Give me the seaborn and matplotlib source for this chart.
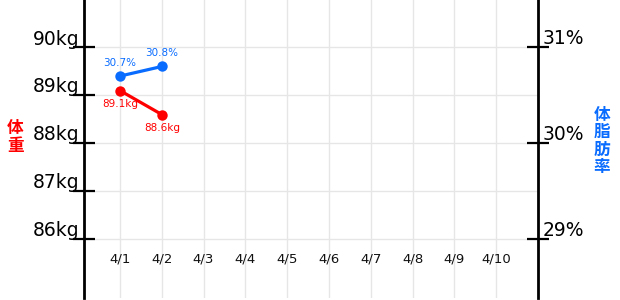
import numpy as np
import pandas as pd
import matplotlib
matplotlib.use("Agg")
import matplotlib.pyplot as plt
from matplotlib.transforms import ScaledTranslation
import seaborn as sns

# ---- data ----
dates = ["4/1", "4/2", "4/3", "4/4", "4/5", "4/6", "4/7", "4/8", "4/9", "4/10"]
weight = [89.1, 88.6, None, None, None, None, None, None, None, None]
bodyfat = [30.7, 30.8, None, None, None, None, None, None, None, None]
weight_ticks = [86, 87, 88, 89, 90]
weight_tick_labels = ["86kg", "87kg", "88kg", "89kg", "90kg"]
fat_ticks = [29, 30, 31]
fat_tick_labels = ["29%", "30%", "31%"]

RED = "#ff0000"
BLUE = "#0a6cff"

sns.set_theme(style="white")
plt.rcParams["font.family"] = ["DejaVu Sans", "Noto Sans CJK JP"]

df = pd.DataFrame({
    "pos": np.arange(len(dates)),
    "date": dates,
    "weight": pd.array(weight, dtype="Float64").astype(float),
    "bodyfat": pd.array(bodyfat, dtype="Float64").astype(float),
})

fig = plt.figure(figsize=(6.2, 3.0), dpi=100)
ax = fig.add_axes([84 / 620, 2 / 300, 454 / 620, 298 / 300])
ax2 = ax.twinx()

sns.lineplot(data=df.dropna(subset=["weight"]), x="pos", y="weight", ax=ax,
             color=RED, lw=2.3, marker="o", markersize=7.5,
             markeredgewidth=0, zorder=3)
sns.lineplot(data=df.dropna(subset=["bodyfat"]), x="pos", y="bodyfat", ax=ax2,
             color=BLUE, lw=2.3, marker="o", markersize=7.5,
             markeredgewidth=0, zorder=3)

ax.set_xlim(-0.86, 10.0)
ax.set_ylim(84.77, 90.99)
ax2.set_ylim(28.384, 31.494)

ax.set_xlabel("")
ax.set_ylabel("")
ax2.set_ylabel("")

# x ticks
ax.set_xticks(df["pos"])
ax.set_xticklabels(dates, fontsize=9.5, color="#111111")
ax.tick_params(axis="x", length=0, pad=-33)

# y ticks
ax.set_yticks(weight_ticks)
ax.set_yticklabels(weight_tick_labels, fontsize=13.5, color="black")
ax2.set_yticks(fat_ticks)
ax2.set_yticklabels(fat_tick_labels, fontsize=13.5, color="black")
for a in (ax, ax2):
    a.tick_params(axis="y", direction="inout", length=16, width=1.6,
                  color="black", pad=-4.5)
shift = ScaledTranslation(0, 7.5 / 72, fig.dpi_scale_trans)
for lab in ax.get_yticklabels() + ax2.get_yticklabels():
    lab.set_transform(lab.get_transform() + shift)

# grid
ax.grid(True, color="#e6e6e6", lw=1)
ax2.grid(False)
ax.set_axisbelow(True)

for a in (ax, ax2):
    a.spines["top"].set_visible(False)
    a.spines["bottom"].set_visible(False)
ax.spines["right"].set_visible(False)
ax2.spines["left"].set_visible(False)
ax.spines["left"].set_color("black")
ax.spines["left"].set_linewidth(2)
ax2.spines["right"].set_color("black")
ax2.spines["right"].set_linewidth(2)

# data labels
for i, v in enumerate(weight):
    if v is not None:
        ax.annotate(f"{v}kg", (i, v), xytext=(0, -10), textcoords="offset points",
                    ha="center", va="center", fontsize=7.5, color=RED)
for i, v in enumerate(bodyfat):
    if v is not None:
        ax2.annotate(f"{v}%", (i, v), xytext=(0, 9.5), textcoords="offset points",
                     ha="center", va="center", fontsize=7.5, color=BLUE)

# axis titles (vertical stacked)
cjk = ["Noto Sans CJK JP", "DejaVu Sans"]
fig.text(15.5 / 620, 1 - 137 / 300, "体\n重", color=RED, fontsize=12,
         ha="center", va="center", linespacing=0.95, fontweight="bold",
         family=cjk)
fig.text(602 / 620, 1 - 141 / 300, "体\n脂\n肪\n率", color=BLUE, fontsize=12,
         ha="center", va="center", linespacing=0.95, fontweight="bold",
         family=cjk)

fig.savefig("out.png", dpi=100)
